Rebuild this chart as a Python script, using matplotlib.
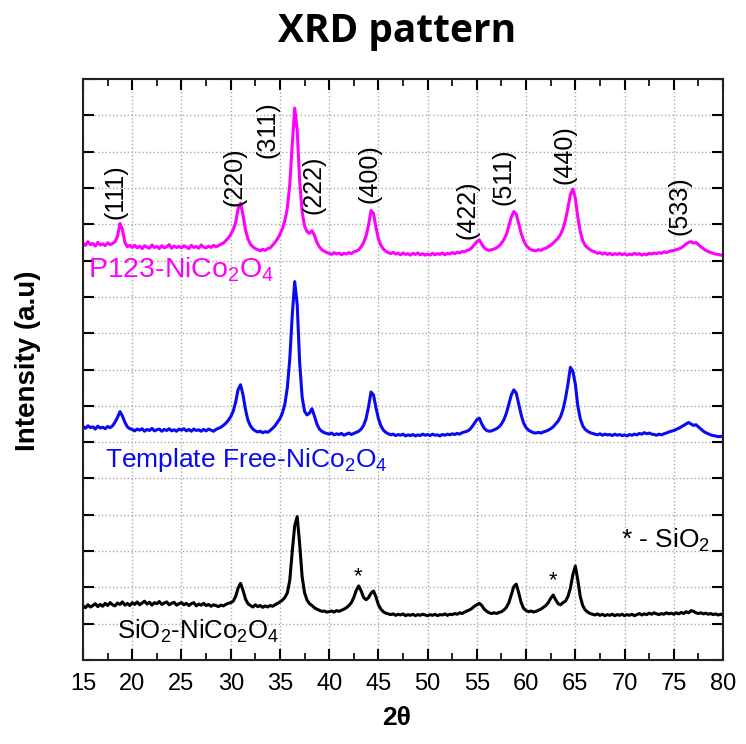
import numpy as np
import matplotlib.pyplot as plt

# 2-theta sampling grid (0.25 deg steps, 15..80)
two_theta = np.arange(15, 80.001, 0.25)

# P123-NiCo2O4 (axis units)
p123 = [
    11.48, 11.42, 11.52, 11.44, 11.47, 11.40, 11.50, 11.43, 11.46, 11.41, 11.49, 11.44, 11.47, 11.52, 11.66, 12.02, 11.86, 11.50, 11.38, 11.42,
    11.36, 11.42, 11.35, 11.40, 11.33, 11.41, 11.37, 11.34, 11.43, 11.36, 11.39, 11.33, 11.41, 11.35, 11.38, 11.44, 11.34, 11.40, 11.36, 11.39,
    11.35, 11.41, 11.37, 11.33, 11.42, 11.36, 11.39, 11.34, 11.43, 11.37, 11.35, 11.40, 11.36, 11.42, 11.38, 11.41, 11.45, 11.48, 11.55, 11.62,
    11.72, 11.85, 12.05, 12.42, 12.58, 12.25, 11.85, 11.60, 11.45, 11.38, 11.33, 11.30, 11.27, 11.31, 11.28, 11.33, 11.35, 11.42, 11.50, 11.60,
    11.72, 11.88, 12.10, 12.45, 13.10, 14.20, 15.20, 14.60, 13.20, 12.35, 11.95, 11.80, 11.75, 11.82, 11.70, 11.50, 11.38, 11.30, 11.26, 11.22,
    11.20, 11.17, 11.22, 11.18, 11.21, 11.16, 11.20, 11.18, 11.22, 11.19, 11.24, 11.26, 11.30, 11.38, 11.50, 11.68, 11.98, 12.38, 12.30, 11.92,
    11.60, 11.42, 11.32, 11.26, 11.22, 11.19, 11.23, 11.18, 11.20, 11.16, 11.21, 11.17, 11.19, 11.15, 11.20, 11.17, 11.21, 11.16, 11.19, 11.15,
    11.18, 11.15, 11.20, 11.16, 11.19, 11.17, 11.21, 11.16, 11.20, 11.18, 11.22, 11.19, 11.23, 11.21, 11.25, 11.24, 11.28, 11.30, 11.36, 11.44,
    11.52, 11.57, 11.45, 11.35, 11.30, 11.28, 11.30, 11.32, 11.35, 11.40, 11.48, 11.58, 11.72, 11.95, 12.20, 12.35, 12.28, 12.02, 11.75, 11.55,
    11.42, 11.35, 11.30, 11.28, 11.27, 11.30, 11.28, 11.32, 11.34, 11.38, 11.42, 11.48, 11.55, 11.62, 11.72, 11.88, 12.12, 12.45, 12.82, 12.97,
    12.72, 12.20, 11.80, 11.55, 11.42, 11.35, 11.30, 11.26, 11.24, 11.20, 11.22, 11.18, 11.21, 11.17, 11.20, 11.16, 11.19, 11.17, 11.20, 11.16,
    11.19, 11.15, 11.18, 11.16, 11.20, 11.17, 11.19, 11.15, 11.18, 11.16, 11.20, 11.18, 11.21, 11.19, 11.22, 11.20, 11.24, 11.22, 11.25, 11.27,
    11.28, 11.30, 11.32, 11.35, 11.40, 11.46, 11.50, 11.52, 11.48, 11.50, 11.44, 11.38, 11.33, 11.28, 11.25, 11.22, 11.20, 11.18, 11.17, 11.15,
    11.16,
]

# Template free NiCo2O4
free = [
    6.43, 6.38, 6.45, 6.40, 6.42, 6.36, 6.44, 6.39, 6.41, 6.37, 6.43, 6.40, 6.45, 6.55, 6.68, 6.84, 6.72, 6.55, 6.42, 6.37,
    6.35, 6.31, 6.36, 6.33, 6.37, 6.30, 6.35, 6.32, 6.38, 6.31, 6.34, 6.36, 6.30, 6.35, 6.32, 6.37, 6.31, 6.34, 6.30, 6.36,
    6.33, 6.37, 6.31, 6.35, 6.30, 6.36, 6.32, 6.34, 6.30, 6.35, 6.31, 6.36, 6.33, 6.30, 6.35, 6.38, 6.41, 6.46, 6.52, 6.60,
    6.70, 6.85, 7.10, 7.45, 7.58, 7.30, 6.90, 6.60, 6.45, 6.36, 6.31, 6.28, 6.30, 6.26, 6.29, 6.27, 6.32, 6.38, 6.45, 6.55,
    6.65, 6.80, 7.05, 7.50, 8.30, 9.50, 10.42, 9.80, 8.20, 7.25, 6.85, 6.75, 6.80, 6.92, 6.72, 6.50, 6.36, 6.30, 6.26, 6.24,
    6.22, 6.25, 6.20, 6.23, 6.21, 6.24, 6.19, 6.22, 6.25, 6.21, 6.24, 6.27, 6.30, 6.36, 6.46, 6.65, 6.98, 7.38, 7.30, 6.95,
    6.65, 6.45, 6.33, 6.27, 6.23, 6.20, 6.22, 6.18, 6.21, 6.19, 6.22, 6.17, 6.20, 6.18, 6.21, 6.17, 6.20, 6.18, 6.22, 6.19,
    6.21, 6.18, 6.22, 6.19, 6.20, 6.17, 6.21, 6.19, 6.22, 6.20, 6.23, 6.21, 6.24, 6.22, 6.26, 6.28, 6.30, 6.34, 6.42, 6.52,
    6.62, 6.66, 6.50, 6.38, 6.32, 6.30, 6.31, 6.34, 6.37, 6.42, 6.50, 6.62, 6.80, 7.05, 7.30, 7.44, 7.35, 7.05, 6.75, 6.52,
    6.40, 6.33, 6.29, 6.26, 6.25, 6.27, 6.25, 6.28, 6.30, 6.33, 6.37, 6.42, 6.50, 6.58, 6.70, 6.90, 7.20, 7.60, 8.06, 7.95,
    7.60, 7.00, 6.65, 6.45, 6.35, 6.30, 6.26, 6.24, 6.22, 6.20, 6.23, 6.19, 6.22, 6.20, 6.21, 6.18, 6.22, 6.19, 6.21, 6.18,
    6.20, 6.17, 6.21, 6.19, 6.22, 6.20, 6.24, 6.22, 6.26, 6.23, 6.25, 6.22, 6.21, 6.19, 6.22, 6.20, 6.23, 6.25, 6.28, 6.30,
    6.32, 6.35, 6.38, 6.42, 6.46, 6.50, 6.54, 6.50, 6.46, 6.48, 6.42, 6.36, 6.30, 6.26, 6.23, 6.20, 6.18, 6.17, 6.15, 6.16,
    6.14,
]

# SiO2-NiCo2O4
sio2 = [
    1.49, 1.44, 1.52, 1.46, 1.50, 1.55, 1.47, 1.53, 1.48, 1.56, 1.50, 1.58, 1.52, 1.49, 1.57, 1.53, 1.60, 1.51, 1.56, 1.50,
    1.58, 1.53, 1.60, 1.52, 1.57, 1.62, 1.54, 1.59, 1.51, 1.58, 1.55, 1.61, 1.53, 1.57, 1.60, 1.52, 1.56, 1.59, 1.51, 1.55,
    1.58, 1.52, 1.56, 1.50, 1.55, 1.58, 1.49, 1.54, 1.51, 1.56, 1.50, 1.53, 1.48, 1.52, 1.50, 1.47, 1.51, 1.49, 1.53, 1.56,
    1.58, 1.62, 1.75, 1.98, 2.11, 1.92, 1.68, 1.55, 1.50, 1.46, 1.52, 1.47, 1.50, 1.45, 1.49, 1.46, 1.50, 1.48, 1.52, 1.56,
    1.60, 1.65, 1.72, 1.85, 2.20, 3.00, 3.70, 3.95, 3.20, 2.30, 1.85, 1.65, 1.55, 1.50, 1.44, 1.40, 1.37, 1.34, 1.35, 1.32,
    1.33, 1.35, 1.32, 1.36, 1.34, 1.37, 1.40, 1.44, 1.50, 1.58, 1.72, 1.92, 2.04, 1.90, 1.72, 1.66, 1.72, 1.84, 1.90, 1.74,
    1.52, 1.40, 1.33, 1.29, 1.27, 1.25, 1.27, 1.23, 1.26, 1.24, 1.27, 1.22, 1.25, 1.23, 1.26, 1.22, 1.25, 1.23, 1.26, 1.24,
    1.22, 1.25, 1.23, 1.26, 1.22, 1.25, 1.24, 1.27, 1.23, 1.26, 1.25, 1.28, 1.26, 1.30, 1.28, 1.32, 1.35, 1.38, 1.42, 1.48,
    1.52, 1.56, 1.50, 1.40, 1.34, 1.30, 1.28, 1.30, 1.28, 1.31, 1.33, 1.38, 1.45, 1.58, 1.80, 2.02, 2.09, 1.85, 1.58, 1.42,
    1.36, 1.33, 1.35, 1.32, 1.34, 1.37, 1.40, 1.45, 1.50, 1.58, 1.70, 1.79, 1.66, 1.55, 1.52, 1.58, 1.62, 1.75, 1.98, 2.35,
    2.59, 2.20, 1.75, 1.50, 1.38, 1.32, 1.28, 1.26, 1.24, 1.27, 1.23, 1.26, 1.22, 1.25, 1.23, 1.26, 1.22, 1.25, 1.23, 1.26,
    1.22, 1.25, 1.23, 1.26, 1.22, 1.25, 1.28, 1.24, 1.27, 1.25, 1.29, 1.26, 1.30, 1.27, 1.25, 1.28, 1.26, 1.30, 1.27, 1.29,
    1.26, 1.30, 1.27, 1.31, 1.28, 1.33, 1.30, 1.36, 1.34, 1.30, 1.28, 1.30, 1.27, 1.29, 1.26, 1.28, 1.25, 1.27, 1.24, 1.26,
    1.24,
]

# peak labels: text, 2theta, height
hkl_labels = ["(111)", "(220)", "(311)", "(222)", "(400)", "(422)", "(511)", "(440)", "(533)"]
hkl_x = [18.3, 30.4, 33.7, 38.4, 44.1, 54.0, 57.7, 63.9, 75.6]
hkl_y = [12.9, 13.32, 14.6, 13.1, 13.39, 12.4, 13.3, 13.91, 12.5]

star_x = [42.9, 62.7]
star_y = [2.3, 2.18]

FONT = 'Liberation Sans'
plt.rcParams['mathtext.fontset'] = 'custom'
plt.rcParams['mathtext.rm'] = FONT
plt.rcParams['mathtext.it'] = FONT
plt.rcParams['font.family'] = FONT

fig = plt.figure(figsize=(7.46, 7.44), dpi=100)
ax = fig.add_axes([0.1113, 0.1129, 0.8579, 0.7809])

ax.plot(two_theta, p123, color='#ff00ff', lw=2.2)
ax.plot(two_theta, free, color='#0a0af0', lw=2.2)
ax.plot(two_theta, sio2, color='black', lw=2.2)

ax.set_xlim(15, 80)
ax.set_ylim(0, 16)
ax.set_xticks(np.arange(15, 81, 5))
ax.set_xticks(np.arange(17.5, 80, 5), minor=True)
ax.set_yticks(np.arange(0, 17, 1))
ax.set_yticklabels([])
ax.grid(True, which='major', ls=':', color='#aaaaaa', lw=1.0)
ax.tick_params(which='major', direction='in', length=8, width=1.5, top=True, right=True,
               labelsize=17, pad=9)
ax.tick_params(which='minor', direction='in', length=5, width=1.2, top=True, right=False)
for s in ax.spines.values():
    s.set_linewidth(1.5)
    s.set_color('#222222')

for t, x, y in zip(hkl_labels, hkl_x, hkl_y):
    ax.text(x, y, t, rotation=90, ha='center', va='center', fontsize=18)

for x, y in zip(star_x, star_y):
    ax.text(x, y, '*', ha='center', va='center', fontsize=16)

ax.text(15.5, 10.75, r'P123-NiCo$_2$O$_4$', color='#ff00ff', fontsize=20.5, va='center')
ax.text(17.2, 5.5, r'Template Free-NiCo$_2$O$_4$', color='#0a0af0', fontsize=19, va='center')
ax.text(18.4, 0.8, r'SiO$_2$-NiCo$_2$O$_4$', color='black', fontsize=18.5, va='center')
ax.text(69.6, 3.3, r'* - SiO$_2$', color='black', fontsize=19, va='center')

fig.text(0.532, 0.957, 'XRD pattern', ha='center', va='center', fontsize=28,
         fontweight='bold', family='Open Sans')
fig.text(0.038, 0.515, 'Intensity (a.u)', rotation=90, ha='center', va='center',
         fontsize=20, fontweight='bold')
fig.text(0.531, 0.035, '2θ', ha='center', va='center', fontsize=19, fontweight='bold')

fig.savefig('out.png', dpi=100)
